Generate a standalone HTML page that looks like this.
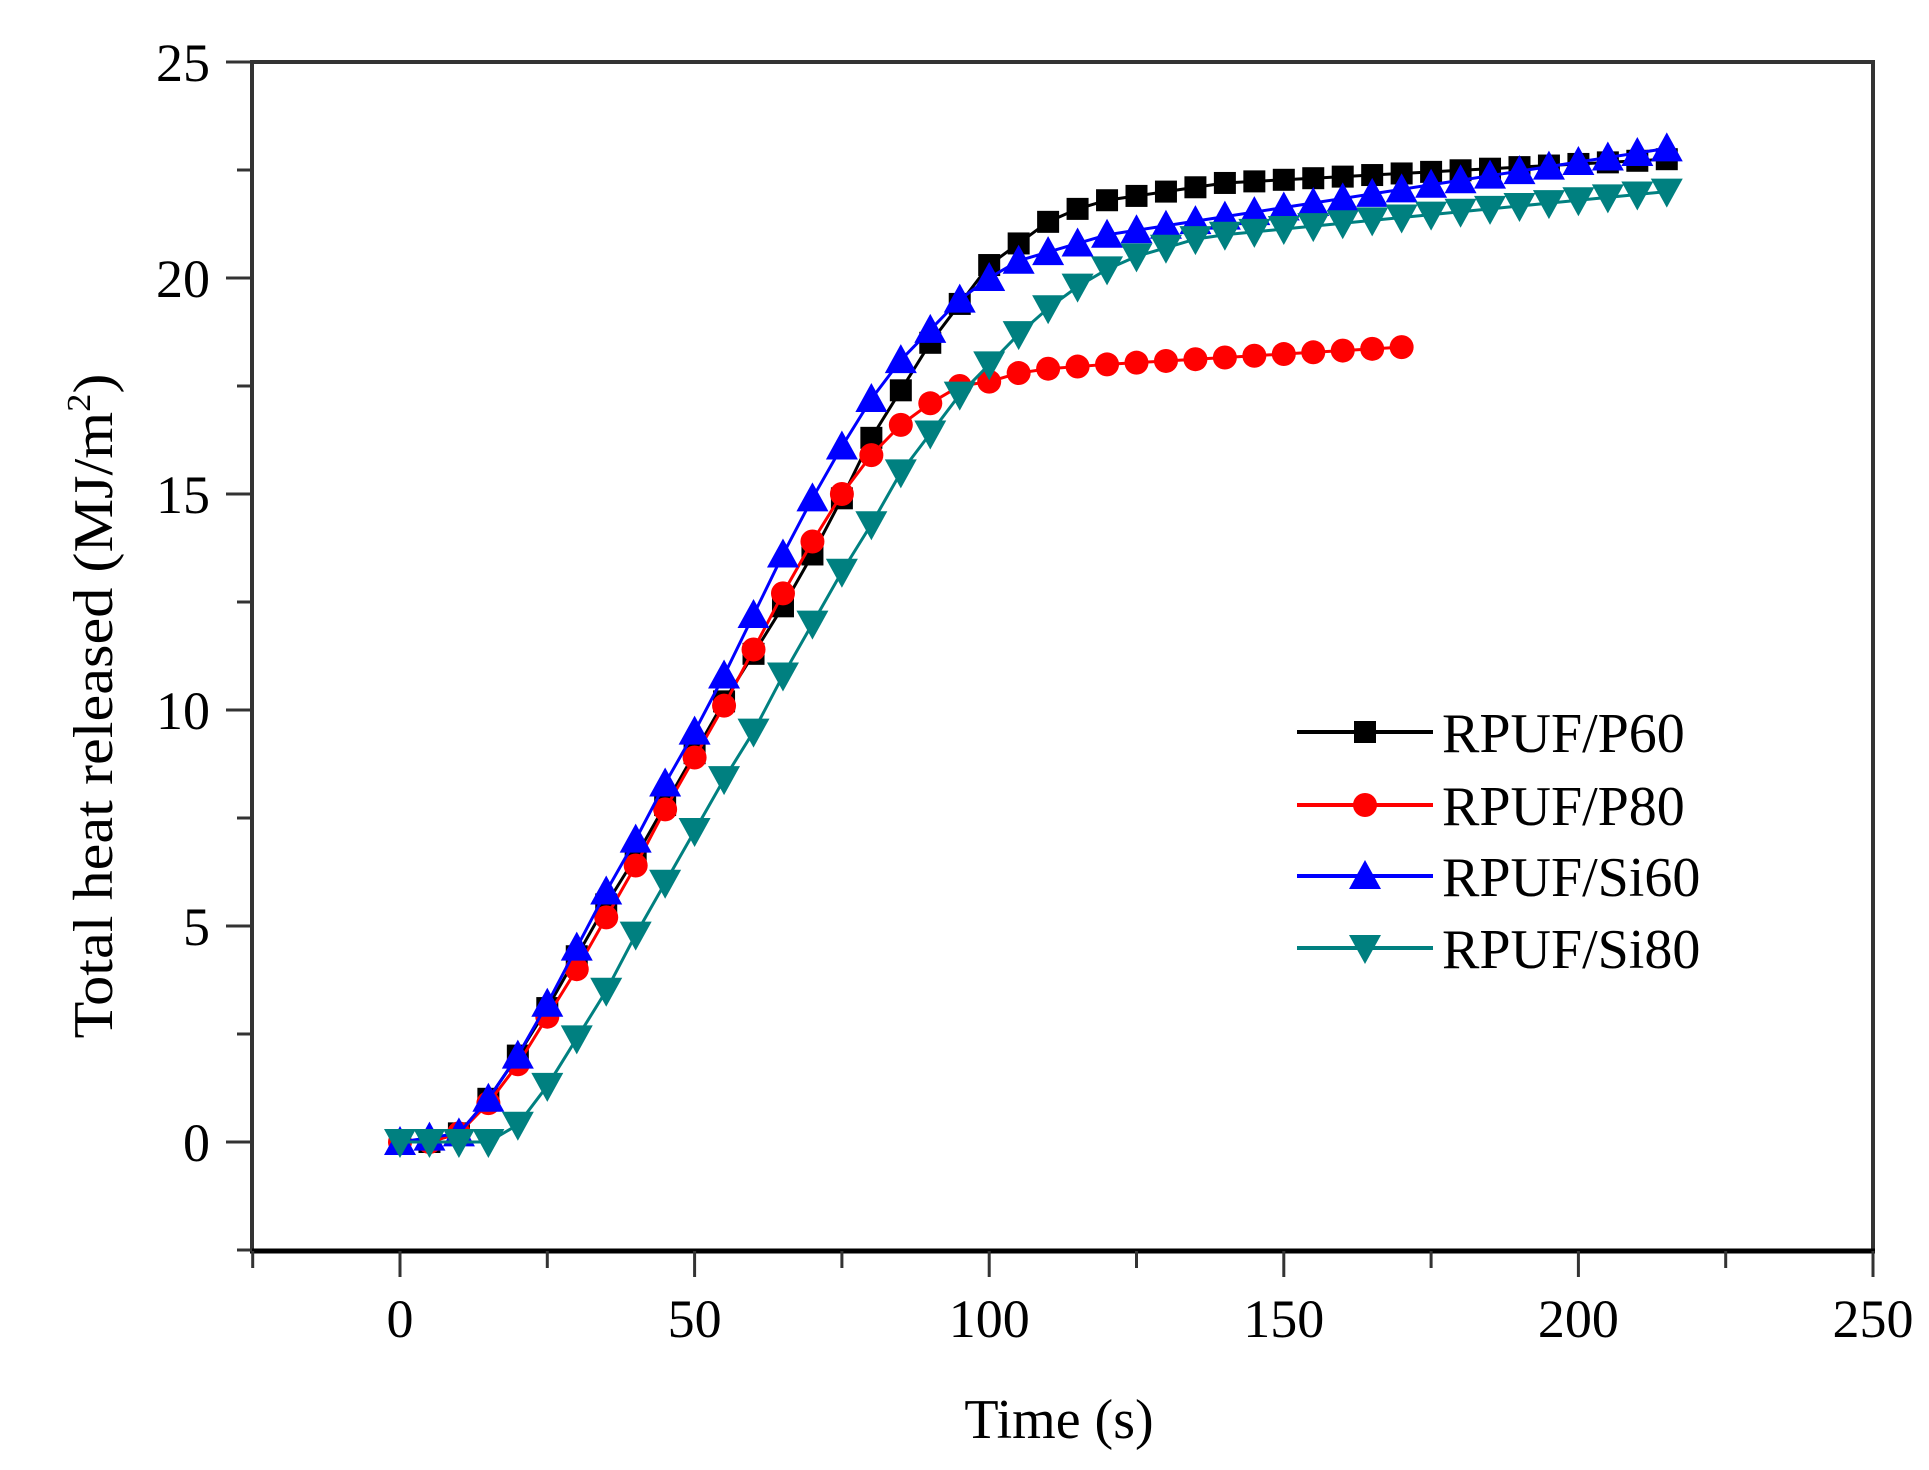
<!DOCTYPE html>
<html><head><meta charset="utf-8"><style>body{margin:0;background:#fff}svg{display:block}</style></head>
<body>
<svg id="s" width="1929" height="1470" xmlns="http://www.w3.org/2000/svg" font-family="Liberation Serif, serif">
<rect width="1929" height="1470" fill="#fff"/>
<g id="plot"></g>
<text x="1059" y="1438" font-size="56" text-anchor="middle">Time (s)</text>
<text transform="translate(112,706) rotate(-90)" font-size="56" text-anchor="middle" textLength="665" lengthAdjust="spacingAndGlyphs">Total heat released (MJ/m<tspan font-size="34" dy="-22">2</tspan><tspan dy="22">)</tspan></text>
<g font-size="56">
<text x="1442" y="752">RPUF/P60</text>
<text x="1442" y="825">RPUF/P80</text>
<text x="1442" y="896">RPUF/Si60</text>
<text x="1442" y="968">RPUF/Si80</text>
</g>
</svg>
<script>
const X=v=>400+v*5.892, Y=v=>1142-v*43.2;
const NS="http://www.w3.org/2000/svg";
const g=document.getElementById('plot');
let h='';
// axes
h+=`<rect x="252" y="62" width="1621" height="1189" fill="none" stroke="#333" stroke-width="4"/>`;
h+=`<line x1="250" y1="1251" x2="1875" y2="1251" stroke="#000" stroke-width="5"/>`;
for(let v=-25;v<=250;v+=25){const x=X(v);const maj=v%50==0;h+=`<line x1="${x}" y1="1251" x2="${x}" y2="${1251+(maj?26:17)}" stroke="#333" stroke-width="3"/>`;
 if(maj)h+=`<text x="${x}" y="1337" font-size="54" text-anchor="middle">${v}</text>`;}
for(let v=-2.5;v<=25;v+=2.5){const y=Y(v);const maj=Math.abs(v%5)<0.01;h+=`<line x1="252" y1="${y}" x2="${252-(maj?26:15)}" y2="${y}" stroke="#333" stroke-width="3"/>`;
 if(maj)h+=`<text x="210" y="${y+19}" font-size="54" text-anchor="end">${v}</text>`;}
function tail(arr,start,end,n){const out=[...arr];const last=arr[arr.length-1];for(let i=1;i<=n;i++)out.push(last+(end-last)*i/n);return out;}
const p60=tail([0,0,0.2,1.0,2.0,3.1,4.3,5.5,6.6,7.8,9.0,10.2,11.3,12.4,13.6,14.9,16.3,17.4,18.5,19.4,20.3,20.8,21.3,21.6,21.8,21.9,22.0,22.1,22.2],0,22.75,15);
const p80=tail([0,0,0.2,0.9,1.8,2.9,4.0,5.2,6.4,7.7,8.9,10.1,11.4,12.7,13.9,15.0,15.9,16.6,17.1,17.5,17.6,17.8,17.9,17.95,18.0],0,18.4,10);
const si60=tail([0,0.1,0.2,1.0,2.0,3.2,4.5,5.8,7.0,8.3,9.5,10.8,12.2,13.6,14.9,16.1,17.2,18.1,18.8,19.5,20.0,20.4,20.6,20.8,21.0],0,23.0,19);
const si80=tail([0,0,0,0,0.4,1.3,2.4,3.5,4.8,6.0,7.2,8.4,9.5,10.8,12.0,13.2,14.3,15.5,16.4,17.3,18.0,18.7,19.3,19.8,20.2,20.5,20.7,20.9,21.0],0,22.0,15);
function mk(t,x,y,c){
 if(t=='s')return `<rect x="${x-11}" y="${y-11}" width="22" height="22" fill="${c}"/>`;
 if(t=='c')return `<circle cx="${x}" cy="${y}" r="12" fill="${c}"/>`;
 if(t=='u')return `<polygon points="${x},${y-16} ${x+16},${y+13} ${x-16},${y+13}" fill="${c}"/>`;
 return `<polygon points="${x},${y+16} ${x+16},${y-13} ${x-16},${y-13}" fill="${c}"/>`;}
function series(d,c,t){let pts=d.map((v,i)=>[X(i*5),Y(v)]);
 h+=`<polyline points="${pts.map(p=>p.join(',')).join(' ')}" fill="none" stroke="${c}" stroke-width="3"/>`;
 pts.forEach(p=>h+=mk(t,p[0],p[1],c));}
series(p60,'#000','s');series(p80,'#f00','c');series(si60,'#00f','u');series(si80,'#008080','d');
const L=[[732,'#000','s'],[805,'#f00','c'],[876,'#00f','u'],[948,'#008080','d']];
L.forEach(([y,c,t])=>{h+=`<line x1="1297" y1="${y}" x2="1433" y2="${y}" stroke="${c}" stroke-width="4"/>`+mk(t,1365,y,c);});
g.innerHTML=h;
</script>
</body></html>
